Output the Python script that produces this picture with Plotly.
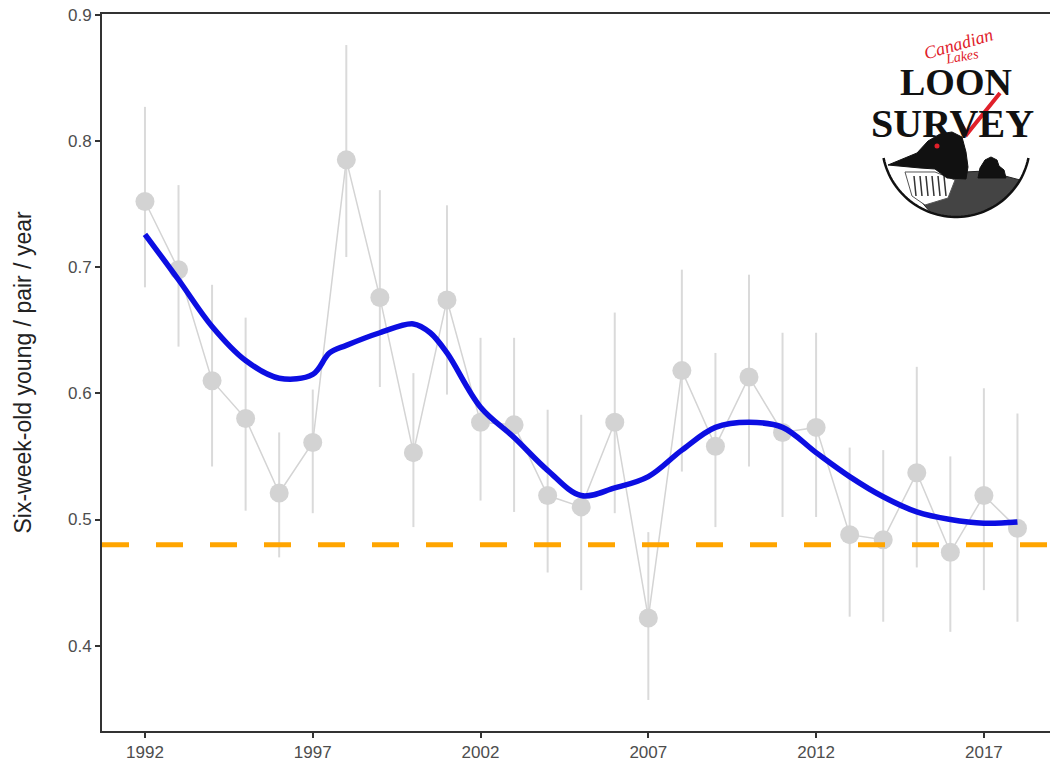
import numpy as np
import plotly.graph_objects as go

# ---------------- data ----------------
years = list(range(1992, 2019))
young_per_pair = [0.752, 0.698, 0.610, 0.580, 0.521, 0.561, 0.785, 0.676, 0.553, 0.674,
                  0.577, 0.575, 0.519, 0.510, 0.577, 0.422, 0.618, 0.558, 0.613, 0.569,
                  0.573, 0.488, 0.484, 0.537, 0.474, 0.519, 0.493]
ci_upper = [0.827, 0.765, 0.686, 0.660, 0.569, 0.603, 0.876, 0.761, 0.616, 0.749,
            0.644, 0.644, 0.587, 0.583, 0.664, 0.490, 0.698, 0.632, 0.694, 0.648,
            0.648, 0.557, 0.555, 0.621, 0.550, 0.604, 0.584]
ci_lower = [0.684, 0.637, 0.542, 0.507, 0.470, 0.505, 0.708, 0.605, 0.494, 0.599,
            0.515, 0.506, 0.458, 0.444, 0.505, 0.357, 0.538, 0.494, 0.542, 0.502,
            0.502, 0.423, 0.419, 0.462, 0.411, 0.444, 0.419]

trend_years = [1992, 1993, 1994, 1995, 1996, 1997, 1997.5, 1998, 1999, 2000, 2000.5,
               2001, 2002, 2003, 2004, 2005, 2006, 2007, 2008, 2009, 2010, 2011,
               2012, 2013, 2014, 2015, 2016, 2017, 2018]
trend_values = [0.726, 0.690, 0.653, 0.626, 0.612, 0.615, 0.632, 0.638, 0.648, 0.655, 0.648,
                0.632, 0.589, 0.565, 0.539, 0.519, 0.525, 0.534, 0.555, 0.573, 0.577, 0.573,
                0.553, 0.534, 0.518, 0.506, 0.500, 0.497, 0.498]

reference_level = 0.48

x_ticks = [1992, 1997, 2002, 2007, 2012, 2017]
y_ticks = [0.4, 0.5, 0.6, 0.7, 0.8, 0.9]
y_ticktext = ["0.4", "0.5", "0.6", "0.7", "0.8", "0.9"]

X_RANGE = [1990.72, 2018.97]
Y_RANGE = [0.3324, 0.9006]

# ---------------- layout helpers (pixel -> paper) ----------------
W, H = 1050, 762
L, R, T, B = 102, 1050, 14, 731


def px(x):
    return (x - L) / (R - L)


def py(y):
    return (B - y) / (B - T)


def path_from(points, close=True):
    s = "M " + " L ".join(f"{px(a):.5f},{py(b):.5f}" for a, b in points)
    return s + (" Z" if close else "")


fig = go.Figure()

fig.add_trace(go.Scatter(
    x=years, y=young_per_pair, mode="lines+markers",
    line=dict(color="#d4d4d4", width=1.5),
    marker=dict(size=19, color="#d3d3d3"),
    error_y=dict(type="data", symmetric=False,
                 array=[u - v for u, v in zip(ci_upper, young_per_pair)],
                 arrayminus=[v - l for v, l in zip(young_per_pair, ci_lower)],
                 color="#dadada", thickness=2, width=0),
    showlegend=False, hoverinfo="x+y"))

fig.add_trace(go.Scatter(
    x=X_RANGE, y=[reference_level, reference_level], mode="lines",
    line=dict(color="#FFA500", width=5, dash="27px,27px"),
    showlegend=False, hoverinfo="skip"))

fig.add_trace(go.Scatter(
    x=trend_years, y=trend_values, mode="lines",
    line=dict(color="#0c0ee2", width=5.5, shape="spline", smoothing=1.0),
    showlegend=False))

# ---------------- logo ----------------
cx, cy, rad = 956, 143, 74
angs = np.linspace(np.pi + np.arcsin(15 / rad), 2 * np.pi - np.arcsin(15 / rad), 60)
arc_pts = [(cx + rad * np.cos(a), cy - rad * np.sin(a)) for a in angs]
shapes = []
shapes.append(dict(type="path", xref="paper", yref="paper",
                   path=path_from(arc_pts, close=True),
                   fillcolor="white", line=dict(color="white", width=0)))

# body (patterned plumage approximated as dark grey)
body_arc = list(np.linspace(2 * np.pi - np.arcsin(37 / rad), 1.5 * np.pi - 0.35, 30))
body_pts = [(930, 176), (965, 172), (985, 171), (1005, 176)]
body_pts += [(cx + rad * np.cos(a), cy - rad * np.sin(a)) for a in body_arc]
body_pts += [(918, 198), (921, 186)]
shapes.append(dict(type="path", xref="paper", yref="paper", path=path_from(body_pts),
                   fillcolor="#444444", line=dict(color="#222", width=1)))
# white collar region with stripes
collar = [(905, 172), (935, 172), (955, 180), (948, 198), (925, 205), (912, 196)]
shapes.append(dict(type="path", xref="paper", yref="paper", path=path_from(collar),
                   fillcolor="white", line=dict(color="#555", width=1)))
for xs in [914, 920, 926, 932, 938, 944]:
    shapes.append(dict(type="line", xref="paper", yref="paper",
                       x0=px(xs), y0=py(176), x1=px(xs + 2), y1=py(196),
                       line=dict(color="#333", width=1.5)))
# head
head = [(888, 165), (917, 153), (928, 141), (940, 134), (952, 132), (962, 137),
        (966, 152), (968, 167), (966, 179), (947, 178), (935, 169), (920, 168)]
shapes.append(dict(type="path", xref="paper", yref="paper", path=path_from(head),
                   fillcolor="#111", line=dict(color="#111", width=1)))
# eye
shapes.append(dict(type="circle", xref="paper", yref="paper",
                   x0=px(934.5), x1=px(939.5), y0=py(148.5), y1=py(143.5),
                   fillcolor="#e0202a", line=dict(width=0)))
# chick
chick = [(978, 178), (980, 168), (985, 160), (991, 157), (997, 160), (999, 166),
         (1004, 170), (1006, 178)]
shapes.append(dict(type="path", xref="paper", yref="paper", path=path_from(chick),
                   fillcolor="#111", line=dict(color="#111", width=1)))
# circle outline (lower arc)
shapes.append(dict(type="path", xref="paper", yref="paper",
                   path=path_from(arc_pts, close=False),
                   line=dict(color="#111", width=2.5)))

annotations = []
annotations.append(dict(text="<b>LOON</b>", x=px(956), y=py(82), xref="paper", yref="paper",
                        showarrow=False, xanchor="center", yanchor="middle",
                        font=dict(family="Liberation Serif", size=38, color="#111")))
annotations.append(dict(text="<b>SURVEY</b>", x=px(952), y=py(124), xref="paper", yref="paper",
                        showarrow=False, xanchor="center", yanchor="middle",
                        font=dict(family="Liberation Serif", size=40, color="#111")))
annotations.append(dict(text="<i>Canadian</i>", x=px(958), y=py(44), xref="paper", yref="paper",
                        showarrow=False, xanchor="center", yanchor="middle", textangle=-16,
                        font=dict(family="Liberation Serif", size=18, color="#e0202a")))
annotations.append(dict(text="<i>Lakes</i>", x=px(962), y=py(57), xref="paper", yref="paper",
                        showarrow=False, xanchor="center", yanchor="middle", textangle=-10,
                        font=dict(family="Liberation Serif", size=14, color="#e0202a")))
# red check mark over the V
shapes.append(dict(type="path", xref="paper", yref="paper",
                   path=path_from([(957, 117), (967, 134), (1000, 93)], close=False),
                   line=dict(color="#e0202a", width=4)))

# y-axis title
annotations.append(dict(text="Six-week-old young / pair / year", x=px(22), y=0.5,
                        xref="paper", yref="paper", showarrow=False, textangle=-90,
                        xanchor="center", yanchor="middle",
                        font=dict(family="Liberation Sans", size=23, color="#222")))

axis_common = dict(showline=True, linecolor="#333", linewidth=2, ticks="outside",
                   ticklen=5, tickwidth=1.5, tickcolor="#333", showgrid=False,
                   zeroline=False,
                   tickfont=dict(family="Liberation Sans", size=17, color="#4d4d4d"))

fig.update_layout(
    width=W, height=H,
    margin=dict(l=L, r=W - R, t=T, b=H - B, pad=0),
    plot_bgcolor="white", paper_bgcolor="white",
    xaxis=dict(range=X_RANGE, tickvals=x_ticks, mirror=True, **axis_common),
    yaxis=dict(range=Y_RANGE, tickvals=y_ticks, ticktext=y_ticktext, **axis_common),
    shapes=shapes, annotations=annotations, showlegend=False,
)

fig.write_html("out.html", config={"displayModeBar": False},
               post_script="document.body.style.margin='0';document.body.style.overflow='hidden';")
